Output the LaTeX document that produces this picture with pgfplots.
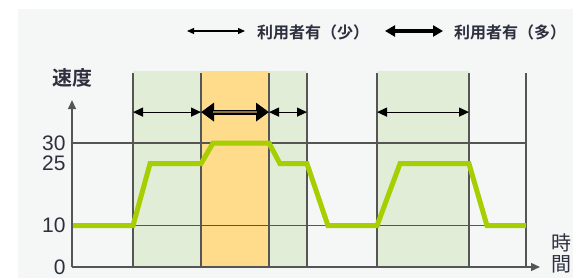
\documentclass[border=0pt]{standalone}
\usepackage{fontspec}
\setmainfont{Liberation Sans}
\newfontfamily\jp{Noto Sans CJK JP}[BoldFont={Noto Sans CJK JP Bold}]
\usepackage{pgfplots}
\pgfplotsset{compat=1.18}
\usetikzlibrary{arrows.meta}
\definecolor{panel}{RGB}{245,247,247}
\definecolor{bandg}{RGB}{226,237,215}
\definecolor{bando}{RGB}{254,220,140}
\definecolor{lineg}{RGB}{166,206,0}
\definecolor{gridc}{RGB}{85,85,85}
\definecolor{txt}{RGB}{45,48,62}
\definecolor{shaft}{RGB}{140,115,60}
\begin{document}
\begin{tikzpicture}
\useasboundingbox (0,0) rectangle (573bp,280bp);
\fill[white] (0,0) rectangle (573bp,280bp);
\fill[panel] (18bp,2bp) rectangle (573bp,271bp);
% legend
\draw[line width=1.2bp, {Triangle[length=7bp,width=6bp]}-{Triangle[length=7bp,width=6bp]}] (187bp,249bp) -- (245bp,249bp);
\node[anchor=west, inner sep=0pt, text=txt, font=\jp\bfseries\fontsize{16bp}{16bp}\selectfont] at (257bp,248bp) {利用者有（少）};
\draw[line width=3.2bp, {Triangle[length=10bp,width=11bp]}-{Triangle[length=10bp,width=11bp]}] (385bp,249bp) -- (443bp,249bp);
\node[anchor=west, inner sep=0pt, text=txt, font=\jp\bfseries\fontsize{16bp}{16bp}\selectfont] at (454bp,248bp) {利用者有（多）};
% axis labels
\node[text=txt, font=\jp\bfseries\fontsize{20bp}{20bp}\selectfont, inner sep=0pt] at (72bp,202bp) {速度};
\node[text=txt, font=\jp\fontsize{20bp}{20bp}\selectfont, inner sep=0pt] at (561bp,37bp) {時};
\node[text=txt, font=\jp\fontsize{20bp}{20bp}\selectfont, inner sep=0pt] at (561bp,16bp) {間};
\begin{axis}[
  at={(72bp,13bp)}, anchor=south west,
  scale only axis, width=468bp, height=196.2bp,
  xmin=0, xmax=46.8, ymin=0, ymax=47.5,
  clip=false,
  axis line style={draw=none},
  tick style={draw=none},
  xtick=\empty,
  ytick={0,10,25,30},
  /pgf/number format/assume math mode=true,
  yticklabel style={font=\fontsize{21bp}{21bp}\selectfont, text=txt, xshift=-3bp},
]
% bands
\addplot[fill=bandg, draw=none] coordinates {(6.1,0)(6.1,47.5)(23.5,47.5)(23.5,0)} -- cycle;
\addplot[fill=bando, draw=none] coordinates {(12.9,0)(12.9,47.5)(19.7,47.5)(19.7,0)} -- cycle;
\addplot[fill=bandg, draw=none] coordinates {(30.5,0)(30.5,47.5)(39.7,47.5)(39.7,0)} -- cycle;
% grid lines
\addplot[gridc, line width=1.2bp] coordinates {(0,10)(45.4,10)};
\addplot[gridc, line width=1.2bp] coordinates {(0,30)(45.4,30)};
\addplot[gridc, line width=1.2bp] coordinates {(6.1,0)(6.1,47)};
\addplot[gridc, line width=1.2bp] coordinates {(12.9,0)(12.9,47)};
\addplot[gridc, line width=1.2bp] coordinates {(19.7,0)(19.7,47)};
\addplot[gridc, line width=1.2bp] coordinates {(23.5,0)(23.5,47)};
\addplot[gridc, line width=1.2bp] coordinates {(30.5,0)(30.5,47)};
\addplot[gridc, line width=1.2bp] coordinates {(39.7,0)(39.7,47)};
\addplot[gridc, line width=1.2bp] coordinates {(45.4,0)(45.4,47)};
% speed line
\addplot[lineg, line width=5bp, line join=miter] coordinates {
 (0,10)(6.1,10)(7.8,25)(12.9,25)(14.1,30)(19.7,30)(20.8,25)(23.5,25)
 (25.6,10)(30.5,10)(32.8,25)(39.7,25)(41.5,10)(45.4,10)};
% axes
\draw[gridc, line width=1.3bp, -{Triangle[length=9bp,width=8bp]}] (axis cs:0,0) -- (axis cs:46.8,0);
\draw[gridc, line width=1.3bp, -{Triangle[length=9bp,width=8bp]}] (axis cs:0,0) -- (axis cs:0,40.4);
% usage arrows
\draw[line width=1.2bp, {Triangle[length=10bp,width=9bp]}-{Triangle[length=10bp,width=9bp]}] (axis cs:6.1,37.5) -- (axis cs:12.9,37.5);
\draw[line width=1.2bp, {Triangle[length=10bp,width=9bp]}-{Triangle[length=10bp,width=9bp]}] (axis cs:19.7,37.5) -- (axis cs:23.5,37.5);
\draw[line width=1.2bp, {Triangle[length=10bp,width=9bp]}-{Triangle[length=10bp,width=9bp]}] (axis cs:30.5,37.5) -- (axis cs:39.7,37.5);
\draw[line width=5bp, {Triangle[length=13bp,width=18bp]}-{Triangle[length=13bp,width=18bp]}] (axis cs:12.9,37.5) -- (axis cs:19.7,37.5);
\draw[line width=2bp, shaft, shorten <=12bp, shorten >=12bp] (axis cs:12.9,37.5) -- (axis cs:19.7,37.5);
\end{axis}
\end{tikzpicture}
\end{document}
